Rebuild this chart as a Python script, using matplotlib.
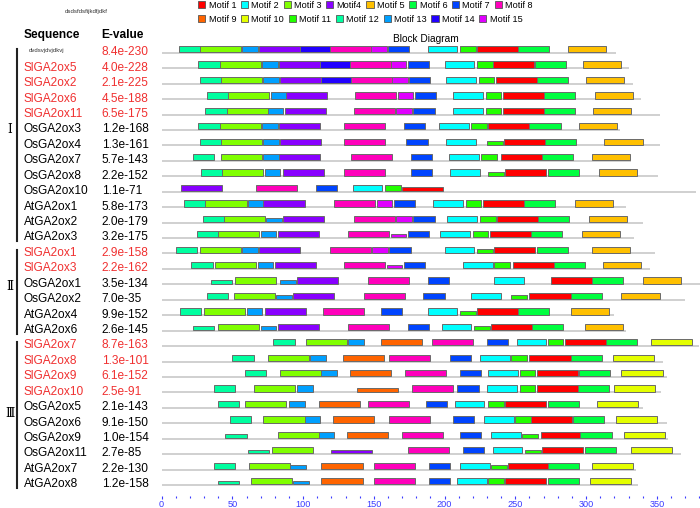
import matplotlib
matplotlib.use('Agg')
import matplotlib.pyplot as plt
from matplotlib.patches import Rectangle, Patch
from matplotlib.lines import Line2D
import matplotlib.transforms as mtransforms
from matplotlib.ticker import FixedLocator

plt.rcParams['font.family'] = ['Liberation Sans', 'DejaVu Sans']

# ---------------- data ----------------
SEQ_NAMES = ['dvdsvjdvjdkvj', 'SlGA2ox5', 'SlGA2ox2', 'SlGA2ox6', 'SlGA2ox11',
             'OsGA2ox3', 'OsGA2ox4', 'OsGA2ox7', 'OsGA2ox8', 'OsGA2ox10',
             'AtGA2ox1', 'AtGA2ox2', 'AtGA2ox3',
             'SlGA2ox1', 'SlGA2ox3', 'OsGA2ox1', 'OsGA2ox2', 'AtGA2ox4', 'AtGA2ox6',
             'SlGA2ox7', 'SlGA2ox8', 'SlGA2ox9', 'SlGA2ox10', 'OsGA2ox5', 'OsGA2ox6',
             'OsGA2ox9', 'OsGA2ox11', 'AtGA2ox7', 'AtGA2ox8']
E_VALUES = ['8.4e-230', '4.0e-228', '2.1e-225', '4.5e-188', '6.5e-175',
            '1.2e-168', '1.3e-161', '5.7e-143', '2.2e-152', '1.1e-71',
            '5.8e-173', '2.0e-179', '3.2e-175',
            '2.9e-158', '2.2e-162', '3.5e-134', '7.0e-35', '9.9e-152', '2.6e-145',
            '8.7e-163', '1.3e-101', '6.1e-152', '2.5e-91', '2.1e-143', '9.1e-150',
            '1.0e-154', '2.7e-85', '2.2e-130', '1.2e-158']
SEQ_LENGTHS = [321, 330, 333, 339, 352, 324, 352, 332, 351, 378, 328, 340, 334,
               349, 345, 382, 370, 320, 328,
               380, 354, 357, 353, 340, 357, 358, 367, 335, 337]
GROUP_LABELS = ['Ⅰ', 'Ⅱ', 'Ⅲ']
GROUP_SIZES = [13, 6, 10]

MOTIF_LABELS = ['Motif 1', 'Motif 2', 'Motif 3', 'Motif4', 'Motif 5', 'Motif 6', 'Motif 7',
                'Motif 8', 'Motif 9', 'Motif 10', 'Motif 11', 'Motif 12', 'Motif 13',
                'Motif 14', 'Motif 15']
MOTIF_WIDTHS = [29, 21, 29, 29, 27, 22, 15, 29, 29, 29, 11, 15, 11, 21, 11]

N = None
MOTIF_1 = [223, 234, 236, 241, 241, 231, 242, 240, 243, 170, 227, 237, 232, 235, 248, 275, 260,
           223, 233, 285, 260, 265, 265, 243, 261, 268, 269, 245, 243]
MOTIF_2 = [188, 200, 201, 206, 206, 196, 201, 203, 204, 135, 192, 202, 197, 200, 213, 235, 219,
           188, 198, 251, 225, 231, 230, 207, 228, 233, 234, 211, 209]
MOTIF_3 = [27, 41, 42, 47, 46, 41, 42, 42, 43, N, 31, 44, 40, 27, 38, 52, 51, 30, 40,
           102, 75, 84, 65, 59, 72, 82, 78, 62, 63]
MOTIF_4 = [69, 83, 84, 88, 87, 83, 84, 83, 86, 14, 72, 86, 82, 69, 80, 96, 93, 73, 82,
           N, N, N, N, N, N, N, 120, N, N]
MOTIF_5 = [287, 298, 300, 306, 305, 295, 313, 304, 309, N, 292, 302, 297, 304, 312, 340, 325,
           289, 299, N, N, N, N, N, N, N, N, N, N]
MOTIF_6 = [252, 264, 265, 270, 270, 260, 271, 269, 273, N, 256, 266, 261, 265, 277, 304, 289,
           252, 262, 314, 289, 295, 294, 273, 291, 296, 299, 273, 273]
MOTIF_7 = [160, 174, 175, 179, 178, 171, 173, 176, 176, 109, 164, 178, 174, 161, 171, 188, 185,
           155, 174, 230, 204, 211, 209, 187, 206, 211, 213, 189, 189]
MOTIF_8 = [119, 133, 134, 137, 136, 129, 129, 134, 129, 67, 122, 136, 132, 119, 129, 146, 143,
           114, 132, 191, 161, 172, 177, 146, 161, 170, 174, 150, 150]
MOTIF_9 = [N, N, N, N, N, N, N, N, N, N, N, N, N, N, N, N, N, N, N,
           155, 128, 133, 138, 111, 121, 131, N, 113, 113]
MOTIF_10 = [N, N, N, N, N, N, N, N, N, N, N, N, N, N, N, N, N, N, N,
            346, 319, 325, 320, 308, 321, 327, 332, 304, 303]
MOTIF_11 = [211, 223, 224, 229, 229, 219, 230, 226, 231, 158, 215, 225, 220, 223, 235, N, 247,
            211, 221, 273, 247, 253, 253, 231, 250, 255, 257, 233, 231]
MOTIF_12 = [12, 26, 27, 32, 31, 26, 27, 22, 28, N, 16, 29, 25, 10, 21, 35, 32, 13, 22,
            79, 50, 59, 37, 40, 48, 45, 61, 37, 40]
MOTIF_13 = [57, 71, 72, 77, 75, 71, 72, 72, 73, N, 61, 74, 70, 57, 68, 84, 81, 60, 70,
            132, 105, 113, 96, 90, 101, 111, N, 91, 93]
MOTIF_14 = [98, 112, 113, N, N, N, N, N, N, N, N, N, N, N, N, N, N, N, N,
            N, N, N, N, N, N, N, N, N, N]
MOTIF_15 = [148, 162, 163, 167, 166, N, N, N, N, N, 152, 166, 162, 149, 159, N, N, N, N,
            N, N, N, N, N, N, N, N, N, N]
MOTIF_STARTS = [MOTIF_1, MOTIF_2, MOTIF_3, MOTIF_4, MOTIF_5, MOTIF_6, MOTIF_7, MOTIF_8,
                MOTIF_9, MOTIF_10, MOTIF_11, MOTIF_12, MOTIF_13, MOTIF_14, MOTIF_15]

# hits with weaker p-value (drawn lower), as (row, motif number)
WEAK_HITS = {(6, 11), (8, 11), (9, 1), (11, 13), (12, 15), (13, 11), (14, 15), (15, 12),
             (15, 13), (16, 13), (16, 11), (17, 11), (18, 12), (18, 13), (18, 11), (22, 9),
             (25, 12), (25, 11), (26, 12), (26, 4), (26, 11), (27, 13), (27, 11), (28, 12),
             (28, 13)}

# ---------------- style ----------------
MOTIF_COLORS = ['#ff0000', '#00ffff', '#80ff00', '#8800ff', '#ffc000', '#00ff40', '#0044ff',
                '#ff00bb', '#ff6400', '#e4ff00', '#22ff00', '#00ffa0', '#00a0ff', '#2200ff',
                '#e000ff']
RED = '#f03030'
BLUE = '#3a3aff'

W, H = 700, 508
fig = plt.figure(figsize=(W / 100, H / 100), dpi=100)
px = mtransforms.Affine2D().scale(1 / W, -1 / H).translate(0, 1) + fig.transFigure

AXIS_Y = 496
ax = fig.add_axes([150 / W, (H - AXIS_Y) / H, 550 / W, AXIS_Y / H])
ax.set_xlim(-8.2, 380.5)
ax.set_ylim(AXIS_Y, 0)
for s in ax.spines.values():
    s.set_visible(False)
ax.xaxis.set_major_locator(FixedLocator(list(range(0, 351, 50))))
ax.xaxis.set_minor_locator(FixedLocator([v for v in range(10, 381, 10) if v % 50]))
ax.tick_params(axis='x', which='major', length=2.5, width=0.8, color=BLUE, labelcolor=BLUE,
               labelsize=6.6, pad=0.3)
ax.tick_params(axis='x', which='minor', length=1.2, width=0.8, color=BLUE)
ax.tick_params(axis='y', left=False, labelleft=False)

ROW0, ROW_STEP = 52.3, 15.43
BAR_H, WEAK_H = 6.3, 3.8


def row_y(i):
    return ROW0 + i * ROW_STEP


for i, L in enumerate(SEQ_LENGTHS):
    y = row_y(i)
    ax.plot([0, L], [y + 0.6, y + 0.6], color='#c4c4c4', lw=1.1, solid_capstyle='butt', zorder=1)
    for m, starts in enumerate(MOTIF_STARTS):
        s = starts[i]
        if s is None:
            continue
        h = WEAK_H if (i, m + 1) in WEAK_HITS else BAR_H
        ax.add_patch(Rectangle((s, y - h), MOTIF_WIDTHS[m], h, facecolor=MOTIF_COLORS[m],
                               edgecolor='#6a6a6a', lw=0.7, zorder=2))

# ---------------- texts ----------------
fig.text(86, 11, 'dsdsfdsfijkdfjdkf', transform=px, fontsize=4.4, ha='center', va='center',
         color='#333333')
fig.text(24, 35, 'Sequence', transform=px, fontsize=8.6, fontweight='bold', ha='left', va='center')
fig.text(101.7, 35, 'E-value', transform=px, fontsize=8.6, fontweight='bold', ha='left', va='center')
fig.text(426, 39, 'Block Diagram', transform=px, fontsize=7.3, ha='center', va='center')

for i, (name, ev) in enumerate(zip(SEQ_NAMES, E_VALUES)):
    y = row_y(i)
    tomato = name.startswith('Sl')
    if i == 0:
        fig.text(29, y - 2, name, transform=px, fontsize=4.3, ha='left', va='center',
                 color='#333333')
    else:
        fig.text(24, y, name, transform=px, fontsize=8.6, ha='left', va='center',
                 color=RED if tomato else 'black')
    fig.text(101.7, y, ev, transform=px, fontsize=8.6, ha='left', va='center',
             color=RED if (tomato or i == 0) else 'black')

# group brackets
start = 0
label_pos = [5.0, 15.2, 23.4]
for g, (lab, size) in enumerate(zip(GROUP_LABELS, GROUP_SIZES)):
    y0 = row_y(start) - 3
    y1 = row_y(start + size - 1) + 4
    fig.add_artist(Line2D([16.7, 16.7], [y0, y1], transform=px, color='#222222', lw=1.5))
    fig.text(10, row_y(label_pos[g]), lab, transform=px, fontsize=8.5, ha='center', va='center',
             family=['DejaVu Serif', 'Noto Sans CJK SC'])
    start += size

# legend (two rows)
handles = [Patch(facecolor=c, edgecolor='#555555', lw=0.6, label=l)
           for c, l in zip(MOTIF_COLORS, MOTIF_LABELS)]
common = dict(loc='upper left', frameon=False, fontsize=6.6, handlelength=0.8,
              handleheight=0.8, handletextpad=0.35, columnspacing=0.5, borderpad=0,
              borderaxespad=0, bbox_transform=px)
fig.legend(handles=handles[:8], ncol=8, bbox_to_anchor=(198, 0.5), **common)
fig.legend(handles=handles[8:], ncol=7, bbox_to_anchor=(198, 14.5), **common)

fig.savefig('out.png', dpi=100)
